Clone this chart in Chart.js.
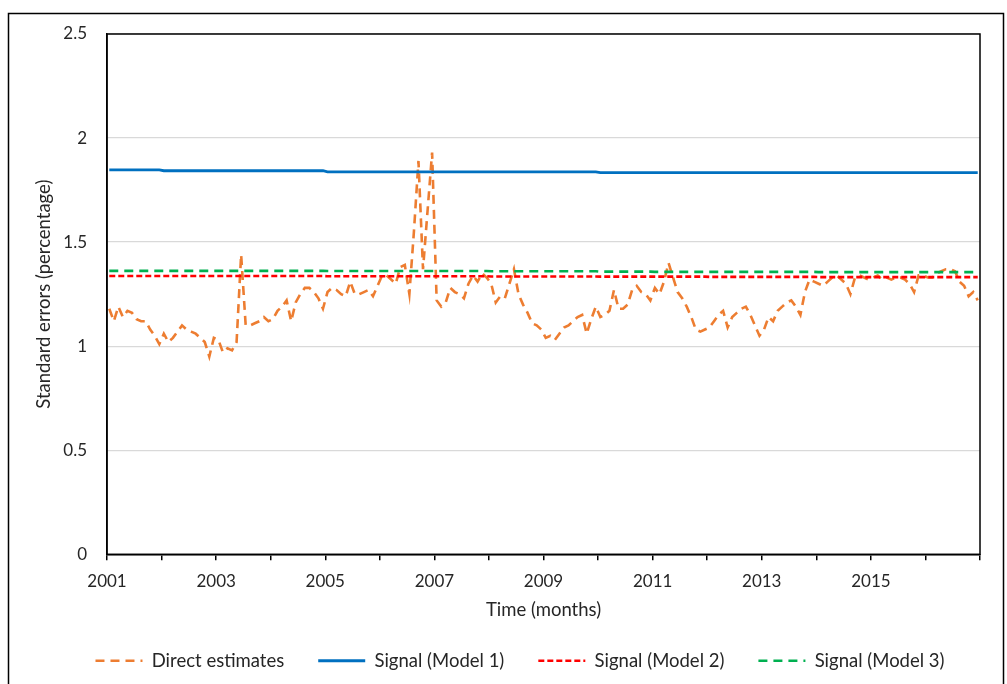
<!DOCTYPE html>
<html>
<head>
<meta charset="utf-8">
<title>Standard errors</title>
<script src="https://cdn.jsdelivr.net/npm/chart.js@4.4.1/dist/chart.umd.min.js"></script>
<style>
  html, body { margin: 0; padding: 0; background: #fff; }
  #wrap { position: relative; width: 1007px; height: 684px; overflow: hidden; }
</style>
</head>
<body>
<div id="wrap"><canvas id="se" width="1007" height="720"></canvas></div>
<script>
const firstYear = 2001;
const lastYear = 2017;
const labelledYears = [2001, 2003, 2005, 2007, 2009, 2011, 2013, 2015];

// monthly direct estimates, one row per year (Jan..Dec)
const directEstimates = [
  1.18, 1.12, 1.19, 1.14, 1.17, 1.16, 1.13, 1.12, 1.12, 1.08, 1.05, 1.01,
  1.06, 1.02, 1.04, 1.07, 1.10, 1.08, 1.07, 1.06, 1.04, 1.02, 0.95, 1.04,
  1.03, 0.97, 0.99, 0.98, 1.02, 1.44, 1.10, 1.10, 1.11, 1.12, 1.14, 1.12,
  1.13, 1.17, 1.19, 1.22, 1.12, 1.21, 1.25, 1.28, 1.28, 1.26, 1.23, 1.18,
  1.26, 1.28, 1.27, 1.25, 1.24, 1.31, 1.25, 1.25, 1.26, 1.27, 1.24, 1.29,
  1.34, 1.34, 1.32, 1.30, 1.38, 1.39, 1.25, 1.55, 1.89, 1.37, 1.65, 1.93,
  1.22, 1.19, 1.21, 1.28, 1.26, 1.25, 1.23, 1.30, 1.34, 1.31, 1.35, 1.33,
  1.30, 1.21, 1.24, 1.23, 1.30, 1.37, 1.25, 1.20, 1.16, 1.11, 1.10, 1.08,
  1.04, 1.05, 1.03, 1.06, 1.09, 1.10, 1.12, 1.14, 1.15, 1.06, 1.13, 1.19,
  1.14, 1.15, 1.17, 1.27, 1.18, 1.18, 1.20, 1.27, 1.29, 1.26, 1.25, 1.22,
  1.28, 1.25, 1.31, 1.40, 1.33, 1.26, 1.23, 1.19, 1.14, 1.08, 1.07, 1.08,
  1.09, 1.12, 1.15, 1.17, 1.09, 1.14, 1.16, 1.18, 1.19, 1.15, 1.10, 1.05,
  1.08, 1.14, 1.12, 1.17, 1.19, 1.21, 1.22, 1.19, 1.15, 1.26, 1.32, 1.31,
  1.30, 1.29, 1.31, 1.33, 1.34, 1.32, 1.30, 1.25, 1.33, 1.34, 1.33, 1.32,
  1.33, 1.34, 1.32, 1.33, 1.32, 1.33, 1.33, 1.32, 1.30, 1.26, 1.34, 1.34,
  1.33, 1.33, 1.35, 1.36, 1.37, 1.37, 1.36, 1.31, 1.29, 1.24, 1.26, 1.22
];

// signal levels per year, 2001..2016
const model1ByYear = [1.847, 1.843, 1.843, 1.843, 1.838, 1.838, 1.838, 1.838, 1.838, 1.834, 1.834, 1.834, 1.834, 1.834, 1.834, 1.834];
const model2ByYear = [1.337, 1.337, 1.337, 1.337, 1.336, 1.336, 1.336, 1.335, 1.335, 1.334, 1.334, 1.333, 1.333, 1.332, 1.332, 1.332];
const model3ByYear = [1.362, 1.362, 1.362, 1.362, 1.361, 1.361, 1.361, 1.360, 1.360, 1.358, 1.357, 1.357, 1.357, 1.356, 1.356, 1.356];

// each month sits in the middle of its slot on the time axis
const monthPos = directEstimates.map((_, i) => firstYear + (i + 0.5) / 12);
const toPoints = vals => monthPos.map((x, i) => ({ x, y: vals[i] }));
const perMonth = byYear => monthPos.map((_, i) => byYear[Math.floor(i / 12)]);

Chart.defaults.font.family = 'Lato, "Open Sans", sans-serif';
Chart.defaults.font.size = 17;
Chart.defaults.color = '#262626';

const framePlugin = {
  id: 'frame',
  afterLayout(chart) {
    // legend row sits a little right of the canvas centre
    chart.legend.left += 30;
    chart.legend.right += 30;
  },
  beforeDraw(chart) {
    const { ctx, width, height } = chart;
    ctx.save();
    ctx.fillStyle = '#fff';
    ctx.fillRect(0, 0, width, height);
    ctx.strokeStyle = '#000';
    ctx.lineWidth = 1.5;
    ctx.strokeRect(8.5, 13.5, 995, 760);
    ctx.restore();
  },
  beforeDatasetsDraw(chart) {
    const { ctx, chartArea: a } = chart;
    ctx.save();
    ctx.strokeStyle = '#000';
    ctx.lineWidth = 1.5;
    ctx.strokeRect(a.left, a.top, a.right - a.left, a.bottom - a.top);
    ctx.restore();
  }
};

const lineBase = { pointRadius: 0, pointHoverRadius: 0, tension: 0, fill: false, borderWidth: 2.6 };

new Chart('se', {
  type: 'line',
  data: {
    datasets: [
      { ...lineBase, label: 'Direct estimates', data: toPoints(directEstimates),
        borderColor: '#ED7D31', backgroundColor: '#ED7D31', borderDash: [9, 6], order: 4 },
      { ...lineBase, label: 'Signal (Model 1)', data: toPoints(perMonth(model1ByYear)),
        borderColor: '#0070C0', backgroundColor: '#0070C0', borderWidth: 2.8, order: 3 },
      { ...lineBase, label: 'Signal (Model 2)', data: toPoints(perMonth(model2ByYear)),
        borderColor: '#FF0000', backgroundColor: '#FF0000', borderDash: [6, 3], order: 2 },
      { ...lineBase, label: 'Signal (Model 3)', data: toPoints(perMonth(model3ByYear)),
        borderColor: '#00B050', backgroundColor: '#00B050', borderDash: [9, 6], order: 1 }
    ]
  },
  options: {
    responsive: false,
    animation: false,
    layout: { padding: { top: 34, right: 27, bottom: 40, left: 0 } },
    scales: {
      x: {
        type: 'linear',
        min: firstYear,
        max: lastYear,
        afterBuildTicks: scale => {
          scale.ticks = [];
          for (let y = firstYear; y <= lastYear; y++) scale.ticks.push({ value: y });
        },
        ticks: {
          autoSkip: false,
          maxRotation: 0,
          padding: 11,
          callback: v => labelledYears.includes(v) ? String(v) : ''
        },
        grid: { drawOnChartArea: false, drawTicks: true, tickLength: 6, color: '#000', lineWidth: 1.5 },
        border: { color: '#000', width: 1.5 },
        title: { display: true, text: 'Time (months)', font: { size: 18.5, lineHeight: 0.8 }, padding: { top: 0, bottom: 0 } }
      },
      y: {
        min: 0,
        max: 2.5,
        afterFit: scale => { scale.width = 107; },
        ticks: { stepSize: 0.5, padding: 20, callback: v => String(v) },
        grid: { color: '#d9d9d9', lineWidth: 1.3, drawTicks: false },
        border: { color: '#000', width: 1.5 },
        title: { display: true, text: 'Standard errors (percentage)', font: { size: 18.5, lineHeight: 1.0 }, padding: { top: 35, bottom: 0 } }
      }
    },
    plugins: {
      legend: {
        position: 'bottom',
        labels: {
          font: { size: 18.5 },
          usePointStyle: true,
          pointStyle: 'line',
          pointStyleWidth: 47,
          padding: 34,
          sort: (a, b) => a.datasetIndex - b.datasetIndex,
          generateLabels: chart =>
            Chart.defaults.plugins.legend.labels.generateLabels(chart).map(item => {
              const ds = chart.data.datasets[item.datasetIndex];
              return { ...item, lineDash: ds.borderDash || [], lineWidth: ds.borderWidth, strokeStyle: ds.borderColor };
            })
        }
      },
      tooltip: { enabled: false }
    }
  },
  plugins: [framePlugin]
});
</script>
</body>
</html>
